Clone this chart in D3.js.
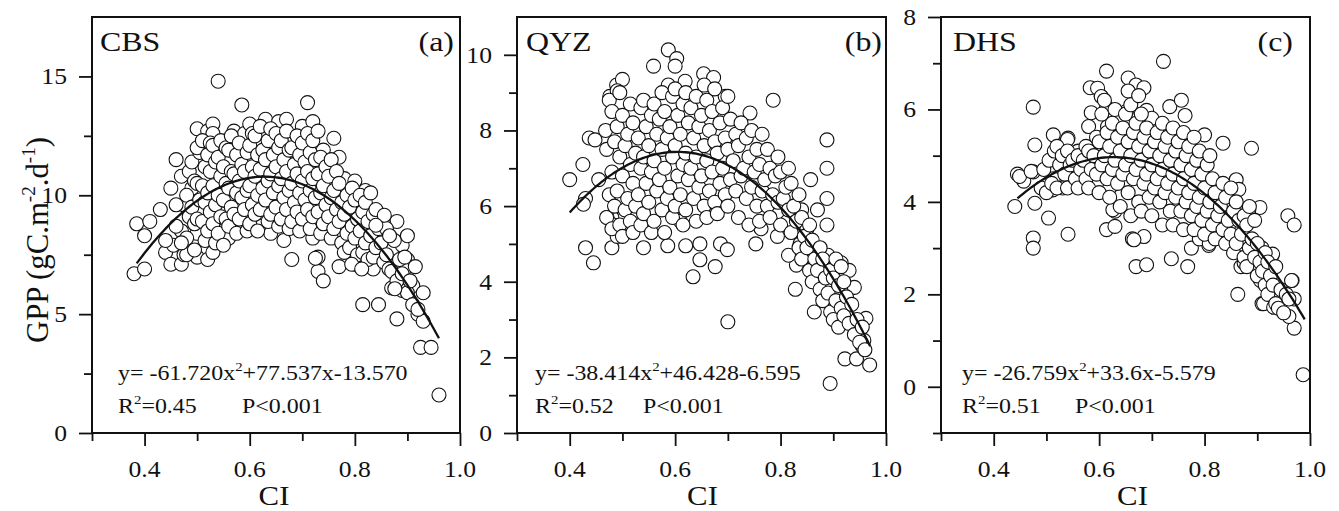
<!DOCTYPE html>
<html>
<head>
<meta charset="utf-8">
<script src="https://cdn.jsdelivr.net/npm/d3@7"></script>
<style>
  body { margin: 0; background: #fff; }
  svg text { font-family: "Liberation Serif", "Times New Roman", serif; fill: #111; }
</style>
</head>
<body>
<svg id="chart" width="1339" height="511"></svg>
<script>
// ---- data ----
var sites = ["CBS", "QYZ", "DHS"];
var panelTags = ["(a)", "(b)", "(c)"];
var xDomain = [0.3, 1.0];
var xMajor = [0.4, 0.6, 0.8, 1.0];
var xMinor = [0.3, 0.5, 0.7, 0.9];
var yDomains = [[0, 17.5], [0, 11], [-1, 8]];
var yMajor = [[0, 5, 10, 15], [0, 2, 4, 6, 8, 10], [0, 2, 4, 6, 8]];
var yMinor = [[2.5, 7.5, 12.5], [1, 3, 5, 7, 9], [-1, 1, 3, 5, 7]];
var fitCoefs = [[-61.720, 77.537, -13.570], [-38.414, 46.428, -6.595], [-26.759, 33.6, -5.579]];
var fitRange = [[0.385, 0.96], [0.40, 0.97], [0.445, 0.99]];
var eqA = ["y= -61.720x", "y= -38.414x", "y= -26.759x"];
var eqB = ["+77.537x-13.570", "+46.428-6.595", "+33.6x-5.579"];
var r2Values = ["0.45", "0.52", "0.51"];

var cbsPoints = [
  [0.54,14.8],[0.585,13.8],[0.71,13.9],[0.38,6.7],[0.40,6.9],[0.385,8.8],[0.40,8.3],[0.41,8.9],
  [0.43,9.4],[0.44,7.6],[0.45,7.1],[0.455,7.9],[0.45,10.3],[0.46,11.5],[0.47,7.1],[0.48,7.8],
  [0.49,9.9],[0.49,10.3],[0.50,7.4],[0.50,8.4],[0.50,12.8],[0.51,11.9],[0.52,12.7],[0.53,13.0],
  [0.53,12.6],[0.52,7.3],[0.53,7.6],[0.55,8.5],[0.56,9.7],[0.565,11.5],[0.57,12.7],[0.56,8.2],
  [0.58,8.7],[0.59,12.6],[0.60,13.0],[0.62,8.7],[0.63,13.2],[0.64,12.2],[0.64,8.4],[0.655,13.1],
  [0.67,13.2],[0.665,8.1],[0.68,7.3],[0.68,12.3],[0.69,12.1],[0.70,8.7],[0.70,12.9],[0.72,13.1],
  [0.72,8.2],[0.73,7.4],[0.73,6.8],[0.74,6.4],[0.74,11.9],[0.75,10.6],[0.76,12.4],[0.77,11.6],
  [0.77,7.0],[0.78,10.7],[0.79,8.0],[0.80,7.1],[0.80,10.6],[0.80,8.7],[0.81,9.6],[0.82,10.2],
  [0.82,7.0],[0.83,8.7],[0.835,6.9],[0.815,5.4],[0.845,5.4],[0.85,9.1],[0.86,8.3],[0.87,7.7],
  [0.87,6.1],[0.88,8.9],[0.88,4.8],[0.89,7.9],[0.89,6.0],[0.90,8.3],[0.90,7.3],[0.90,7.0],
  [0.91,6.2],[0.92,5.0],[0.93,5.9],[0.93,4.7],[0.925,3.6],[0.945,3.6],[0.96,1.6],
  [0.47,8.5],[0.475,9.6],[0.47,10.8],[0.475,7.5],
  [0.48,8.2],[0.485,9.1],[0.48,10.0],[0.485,11.0],[0.48,7.5],
  [0.495,8.8],[0.49,9.5],[0.495,10.6],[0.49,11.4],[0.495,7.7],
  [0.50,9.0],[0.505,9.8],[0.50,10.5],[0.505,11.8],[0.50,12.0],
  [0.515,8.1],[0.51,8.9],[0.515,9.7],[0.51,10.4],[0.515,11.2],[0.51,12.3],
  [0.52,8.5],[0.525,9.3],[0.52,10.1],[0.525,11.0],[0.52,11.7],[0.525,12.2],
  [0.535,8.0],[0.53,8.8],[0.535,9.6],[0.53,10.4],[0.535,11.4],[0.53,12.1],
  [0.54,8.4],[0.545,9.1],[0.54,10.0],[0.545,10.8],[0.54,11.6],[0.545,12.3],
  [0.555,9.0],[0.55,9.8],[0.555,10.5],[0.55,11.2],[0.555,12.0],[0.55,7.9],
  [0.56,8.7],[0.565,9.5],[0.56,10.3],[0.565,11.0],[0.56,11.9],[0.565,12.5],
  [0.575,8.4],[0.57,9.2],[0.575,10.1],[0.57,10.9],[0.575,11.7],
  [0.58,9.0],[0.585,9.9],[0.58,10.6],[0.585,11.3],[0.58,12.2],
  [0.595,8.5],[0.59,9.4],[0.595,10.2],[0.59,11.0],[0.595,11.8],
  [0.60,8.8],[0.605,9.6],[0.60,10.4],[0.605,11.2],[0.60,12.1],[0.605,12.6],
  [0.615,8.5],[0.61,9.2],[0.615,10.0],[0.61,10.8],[0.615,11.7],[0.61,12.5],
  [0.62,9.4],[0.625,10.3],[0.62,11.1],[0.625,11.9],[0.62,12.9],
  [0.635,8.9],[0.63,9.8],[0.635,10.6],[0.63,11.5],[0.635,12.3],
  [0.64,9.2],[0.645,10.1],[0.64,10.9],[0.645,11.7],[0.64,12.8],
  [0.655,8.7],[0.65,9.5],[0.655,10.4],[0.65,11.2],[0.655,12.0],[0.65,12.6],
  [0.66,9.0],[0.665,9.9],[0.66,10.7],[0.665,11.5],[0.66,12.3],
  [0.675,8.6],[0.67,9.4],[0.675,10.2],[0.67,11.0],[0.675,11.9],[0.67,12.7],
  [0.68,8.9],[0.685,9.7],[0.68,10.5],[0.685,11.3],[0.68,12.0],
  [0.695,8.5],[0.69,9.3],[0.695,10.1],[0.69,10.9],[0.695,11.7],[0.69,12.5],
  [0.70,9.0],[0.705,9.8],[0.70,10.6],[0.705,11.4],[0.70,12.2],
  [0.715,8.6],[0.71,9.4],[0.715,10.2],[0.71,11.0],[0.715,11.8],[0.71,12.6],
  [0.72,9.1],[0.725,9.9],[0.72,10.7],[0.725,11.5],[0.72,12.3],
  [0.735,8.4],[0.73,9.3],[0.735,10.1],[0.73,10.9],[0.735,11.6],[0.73,12.7],
  [0.74,8.8],[0.745,9.6],[0.74,10.4],[0.745,11.2],
  [0.755,8.2],[0.75,9.1],[0.755,9.9],[0.75,10.8],[0.755,11.5],
  [0.76,8.6],[0.765,9.4],[0.76,10.2],[0.765,11.0],
  [0.775,8.0],[0.77,8.9],[0.775,9.7],[0.77,10.5],
  [0.78,7.6],[0.785,8.4],[0.78,9.2],[0.785,10.0],
  [0.795,8.7],[0.79,9.5],[0.795,10.3],[0.79,7.8],
  [0.80,8.2],[0.805,9.0],[0.80,9.8],[0.805,7.5],
  [0.815,7.6],[0.81,8.5],[0.815,9.3],[0.81,10.0],
  [0.82,8.0],[0.825,8.9],[0.82,9.7],[0.825,7.3],
  [0.835,7.4],[0.83,8.3],[0.835,9.2],[0.83,10.1],
  [0.84,7.8],[0.845,8.6],[0.84,9.4],
  [0.855,7.2],[0.85,8.0],[0.855,8.8],
  [0.86,7.5],[0.865,6.9],[0.86,8.6],
  [0.87,6.8],[0.875,8.1],[0.88,6.4],[0.885,7.3],[0.89,6.7],[0.895,7.4],
  [0.90,5.9],[0.905,6.4],[0.91,5.4],[0.915,7.0],
  [0.44,8.1],[0.46,8.7],[0.46,9.6],[0.47,8.0],
  [0.92,5.2],[0.876,6.07],[0.725,7.35],[0.794,7.1],[0.813,6.9],[0.856,9.16],[0.84,8.74],[0.866,8.3]
];

var qyzPoints = [
  [0.40,6.7],[0.425,7.1],[0.437,7.8],[0.448,7.75],[0.43,6.2],[0.426,6.05],[0.43,4.9],[0.445,4.5],
  [0.455,6.7],[0.468,8.0],[0.476,8.9],[0.489,9.2],[0.50,9.35],[0.49,9.05],[0.48,4.9],[0.49,5.2],
  [0.48,5.7],[0.54,4.9],[0.559,9.7],[0.587,10.13],[0.603,9.9],[0.60,9.7],[0.587,9.2],[0.619,9.3],
  [0.654,9.5],[0.673,9.4],[0.695,8.9],[0.742,8.46],[0.786,8.8],[0.888,7.75],[0.888,7.0],[0.888,6.2],
  [0.888,5.5],[0.857,6.7],[0.87,5.9],[0.864,3.2],[0.70,2.94],[0.894,1.31],[0.922,1.96],[0.944,1.96],
  [0.969,1.8],[0.955,2.3],[0.958,2.45],[0.962,3.03],[0.94,3.85],[0.93,4.3],[0.908,3.3],[0.915,4.5],
  [0.89,4.7],[0.83,4.44],[0.828,3.8],[0.815,4.7],[0.837,5.0],[0.85,5.4],[0.84,5.9],[0.813,5.6],
  [0.794,5.2],[0.763,5.4],[0.753,5.0],[0.647,4.58],[0.634,4.13],[0.676,4.4],[0.647,5.0],[0.686,5.0],
  [0.699,4.85],[0.62,4.95],[0.586,4.95],[0.61,5.6],[0.471,5.7],[0.483,5.5],
  [0.47,5.7],[0.475,6.3],[0.47,7.5],[0.475,8.8],
  [0.48,5.4],[0.485,6.0],[0.48,6.9],[0.485,7.7],[0.48,8.5],
  [0.495,5.5],[0.49,6.4],[0.495,7.3],[0.49,8.1],[0.495,9.0],
  [0.50,5.2],[0.505,5.9],[0.50,6.8],[0.505,7.6],[0.50,8.4],
  [0.515,5.6],[0.51,6.2],[0.515,7.1],[0.51,7.9],[0.515,8.7],
  [0.52,5.3],[0.525,6.0],[0.52,6.6],[0.525,7.4],[0.52,8.2],
  [0.535,5.5],[0.53,6.3],[0.535,7.0],[0.53,7.8],[0.535,8.6],
  [0.54,5.8],[0.545,6.6],[0.54,7.3],[0.545,8.1],[0.54,8.8],
  [0.555,5.3],[0.55,6.1],[0.555,6.9],[0.55,7.6],[0.555,8.4],
  [0.56,5.6],[0.565,6.4],[0.56,7.2],[0.565,7.9],[0.56,8.7],
  [0.575,5.9],[0.57,6.7],[0.575,7.5],[0.57,8.3],[0.575,9.0],
  [0.58,5.3],[0.585,6.2],[0.58,7.0],[0.585,7.8],[0.58,8.5],
  [0.595,5.7],[0.59,6.5],[0.595,7.3],[0.59,8.1],[0.595,8.9],
  [0.60,6.0],[0.605,6.8],[0.60,7.6],[0.605,8.4],[0.60,9.1],
  [0.615,5.5],[0.61,6.3],[0.615,7.1],[0.61,7.9],[0.615,8.7],
  [0.62,5.9],[0.625,6.7],[0.62,7.4],[0.625,8.2],[0.62,9.0],
  [0.635,6.2],[0.63,7.0],[0.635,7.8],[0.63,8.6],
  [0.64,5.6],[0.645,6.5],[0.64,7.3],[0.645,8.1],[0.64,8.9],
  [0.655,6.0],[0.65,6.8],[0.655,7.6],[0.65,8.4],[0.655,9.2],
  [0.66,5.7],[0.665,6.4],[0.66,7.2],[0.665,8.0],[0.66,8.8],
  [0.675,6.1],[0.67,6.9],[0.675,7.7],[0.67,8.5],[0.675,9.1],
  [0.68,5.8],[0.685,6.6],[0.68,7.4],[0.685,8.2],
  [0.695,6.3],[0.69,7.0],[0.695,7.8],[0.69,8.6],
  [0.70,6.0],[0.705,6.7],[0.70,7.5],[0.705,8.3],[0.70,8.9],
  [0.715,6.4],[0.71,7.2],[0.715,7.9],
  [0.72,5.7],[0.725,6.8],[0.72,7.6],[0.725,8.2],
  [0.735,6.2],[0.73,7.0],[0.735,7.8],
  [0.74,5.5],[0.745,6.5],[0.74,7.3],[0.745,8.0],
  [0.755,6.0],[0.75,6.9],[0.755,7.5],
  [0.76,5.6],[0.765,6.4],[0.76,7.1],[0.765,7.9],
  [0.775,6.0],[0.77,6.7],[0.775,7.5],
  [0.78,5.7],[0.785,6.3],[0.78,7.0],
  [0.795,6.1],[0.79,6.8],[0.795,7.3],
  [0.80,5.5],[0.805,6.2],[0.80,6.9],
  [0.815,5.9],[0.81,6.5],[0.815,7.0],
  [0.82,5.3],[0.825,6.0],[0.82,6.6],
  [0.835,4.9],[0.83,5.6],[0.835,6.3],
  [0.84,4.6],[0.845,5.2],[0.84,5.7],
  [0.855,4.3],[0.85,4.9],[0.855,5.5],
  [0.86,4.0],[0.865,4.6],[0.86,5.1],
  [0.875,3.8],[0.87,4.3],[0.875,4.9],
  [0.88,3.5],[0.885,4.1],[0.88,4.6],
  [0.895,3.2],[0.89,3.7],[0.895,4.3],
  [0.90,3.0],[0.905,3.5],[0.90,4.1],[0.905,4.6],
  [0.91,2.8],[0.915,3.3],[0.91,3.9],[0.915,4.4],
  [0.92,3.1],[0.925,3.6],[0.92,4.0],
  [0.93,2.9],[0.935,3.4],[0.94,2.6],[0.945,3.0],[0.95,2.4],[0.955,2.8],[0.96,2.2]
];

var dhsPoints = [
  [0.44,3.9],[0.445,4.6],[0.457,4.45],[0.475,6.05],[0.478,5.23],[0.475,4.65],[0.478,3.97],[0.475,3.22],
  [0.475,3.0],[0.504,3.65],[0.513,5.45],[0.541,5.38],[0.541,3.3],[0.525,5.0],[0.513,4.5],[0.56,5.1],
  [0.564,4.33],[0.58,5.63],[0.585,5.93],[0.583,6.47],[0.604,6.28],[0.614,6.83],[0.614,6.05],[0.617,5.62],
  [0.595,5.25],[0.614,3.4],[0.63,3.47],[0.63,3.8],[0.62,4.3],[0.655,6.68],[0.67,6.53],[0.685,6.47],
  [0.652,5.96],[0.668,5.6],[0.69,5.98],[0.70,5.81],[0.663,3.2],[0.685,3.25],[0.67,2.6],[0.69,2.64],
  [0.722,7.04],[0.734,6.06],[0.756,6.2],[0.763,5.87],[0.737,2.77],[0.768,2.6],[0.775,3.0],[0.80,5.45],
  [0.835,5.27],[0.889,5.16],[0.86,4.48],[0.863,2.0],[0.869,2.6],[0.905,3.88],[0.958,3.7],[0.97,3.5],
  [0.987,0.26],[0.97,1.27],[0.96,1.52],[0.966,2.3],[0.97,1.9],[0.94,2.0],[0.909,1.8],[0.928,2.85],
  [0.909,3.0],[0.88,3.85],[0.83,3.5],[0.808,3.8],[0.808,3.06],[0.79,3.2],
  [0.597,6.46],[0.604,6.28],[0.54,5.35],[0.559,5.09],[0.616,5.63],[0.629,5.37],[0.449,4.55],[0.471,4.66],
  [0.512,4.26],[0.531,4.3],[0.559,4.33],[0.626,3.83],[0.912,1.8],[0.931,1.72],[0.944,1.94],[0.925,2.2],
  [0.906,2.3],[0.913,2.9],[0.929,2.87],[0.893,3.1],[0.868,2.96],[0.875,2.68],[0.865,4.27],[0.884,3.83],
  [0.871,3.43],[0.666,3.18],[0.809,3.1],
  [0.49,4.3],[0.495,4.7],[0.50,4.2],[0.505,4.9],[0.51,4.4],[0.515,5.1],
  [0.52,4.3],[0.525,4.8],[0.52,5.2],[0.535,4.6],[0.53,5.0],
  [0.54,4.3],[0.545,4.8],[0.54,5.1],[0.555,4.5],[0.55,4.9],
  [0.56,4.3],[0.565,4.7],[0.56,5.0],[0.575,4.5],[0.57,4.9],[0.575,5.2],
  [0.58,4.3],[0.585,4.7],[0.58,5.1],[0.595,4.6],[0.59,5.0],[0.595,5.4],
  [0.60,4.2],[0.605,4.8],[0.60,5.3],[0.605,5.9],
  [0.615,4.5],[0.61,5.0],[0.615,5.5],[0.61,6.2],
  [0.62,4.1],[0.625,4.7],[0.62,5.2],[0.625,5.7],
  [0.635,4.4],[0.63,4.9],[0.635,5.4],[0.63,6.0],
  [0.64,3.9],[0.645,4.6],[0.64,5.1],[0.645,5.6],
  [0.655,4.2],[0.65,4.8],[0.655,5.3],[0.65,5.9],[0.655,6.4],
  [0.66,3.7],[0.665,4.5],[0.66,5.0],[0.665,5.5],[0.66,6.1],
  [0.675,4.0],[0.67,4.7],[0.675,5.2],[0.67,5.7],[0.675,6.3],
  [0.68,3.8],[0.685,4.4],[0.68,4.9],[0.685,5.4],[0.68,5.9],
  [0.695,4.1],[0.69,4.6],[0.695,5.1],[0.69,5.6],
  [0.70,3.7],[0.705,4.3],[0.70,4.8],[0.705,5.3],
  [0.715,4.0],[0.71,4.5],[0.715,5.0],[0.71,5.5],
  [0.72,3.5],[0.725,4.2],[0.72,4.7],[0.725,5.2],[0.72,5.7],
  [0.735,3.8],[0.73,4.4],[0.735,4.9],[0.73,5.4],
  [0.74,3.5],[0.745,4.1],[0.74,4.6],[0.745,5.1],[0.74,5.6],
  [0.755,3.8],[0.75,4.3],[0.755,4.8],[0.75,5.3],
  [0.76,3.4],[0.765,4.0],[0.76,4.5],[0.765,5.0],[0.76,5.5],
  [0.775,3.7],[0.77,4.2],[0.775,4.7],[0.77,5.2],
  [0.78,3.4],[0.785,3.9],[0.78,4.4],[0.785,4.9],[0.78,5.4],
  [0.795,3.6],[0.79,4.1],[0.795,4.6],[0.79,5.1],
  [0.80,3.3],[0.805,3.8],[0.80,4.3],[0.805,4.8],
  [0.815,3.5],[0.81,4.0],[0.815,4.5],[0.81,5.0],
  [0.82,3.2],[0.825,3.7],[0.82,4.2],[0.835,3.4],[0.83,3.9],[0.835,4.4],
  [0.84,3.1],[0.845,3.6],[0.84,4.1],[0.855,2.9],[0.85,3.3],[0.855,3.8],[0.85,4.3],
  [0.86,3.1],[0.865,3.6],[0.86,4.0],[0.875,2.8],[0.87,3.3],[0.875,3.7],
  [0.88,2.6],[0.885,3.0],[0.88,3.5],[0.885,3.9],[0.895,2.8],[0.89,3.2],[0.895,3.6],
  [0.90,2.4],[0.905,2.7],[0.90,3.1],[0.915,2.2],[0.91,2.5],[0.915,2.9],
  [0.92,2.0],[0.925,2.4],[0.92,2.7],[0.935,1.8],[0.93,2.2],[0.935,2.6],
  [0.94,1.7],[0.945,2.1],[0.95,1.6],[0.955,2.0],[0.96,1.9],[0.965,2.3]
];
var allPoints = [cbsPoints, qyzPoints, dhsPoints];

// ---- layout ----
var SX = 1.14;             // the reference text looks widened horizontally
var plotTop = 17, plotBottom = 433;
var lefts = [92, 517, 941], rights = [460, 886, 1310];
var nameDx = [8, 9, 12], tagDx = [-6, -4, -17], eqDx = [26, 18, 21], pDx = [150, 126, 134], ciDx = [-2, 1, 7];

var svg = d3.select("#chart");

function addText(g, x, y, anchor, size) {
  return g.append("text")
    .attr("transform", "translate(" + x + "," + y + ") scale(" + SX + ",1)")
    .attr("text-anchor", anchor)
    .attr("font-size", size);
}
function sup(t, txt, size) {
  t.append("tspan").attr("font-size", size * 0.62).attr("dy", -size * 0.42).text(txt);
  return t.append("tspan").attr("dy", size * 0.42);
}

sites.forEach(function(site, i) {
  var L = lefts[i], R = rights[i];
  var x = d3.scaleLinear().domain(xDomain).range([L, R]);
  var y = d3.scaleLinear().domain(yDomains[i]).range([plotBottom, plotTop]);
  var g = svg.append("g");

  // ticks (outer)
  function ticks(axis, tr, vals, size) {
    var a = g.append("g").attr("transform", tr)
      .call(axis.tickValues(vals).tickSize(size).tickFormat(""));
    a.select(".domain").remove();
    a.selectAll("line").attr("stroke", "#111").attr("stroke-width", 1.8);
  }
  ticks(d3.axisBottom(x), "translate(0," + plotBottom + ")", xMajor, 13);
  ticks(d3.axisBottom(x), "translate(0," + plotBottom + ")", xMinor, 8);
  ticks(d3.axisLeft(y), "translate(" + L + ",0)", yMajor[i], 13);
  ticks(d3.axisLeft(y), "translate(" + L + ",0)", yMinor[i], 8);

  // scatter
  g.append("g").selectAll("circle")
    .data(allPoints[i])
    .join("circle")
    .attr("cx", function(d) { return x(d[0]); })
    .attr("cy", function(d) { return y(d[1]); })
    .attr("r", 7)
    .attr("fill", "#fff")
    .attr("stroke", "#111")
    .attr("stroke-width", 1.1);

  // fitted quadratic
  var c = fitCoefs[i];
  var xs = d3.range(fitRange[i][0], fitRange[i][1] + 1e-9, 0.005);
  var line = d3.line()
    .x(function(v) { return x(v); })
    .y(function(v) { return y(c[0] * v * v + c[1] * v + c[2]); });
  g.append("path").datum(xs).attr("d", line)
    .attr("fill", "none").attr("stroke", "#111").attr("stroke-width", 2.3);

  // frame
  g.append("rect").attr("x", L).attr("y", plotTop).attr("width", R - L).attr("height", plotBottom - plotTop)
    .attr("fill", "none").attr("stroke", "#111").attr("stroke-width", 2);

  // tick labels
  xMajor.forEach(function(v) {
    addText(g, x(v), 477, "middle", 22.5).text(v.toFixed(1));
  });
  yMajor[i].forEach(function(v) {
    addText(g, L - 25, y(v) + 8, "end", 22.5).text(v);
  });
  addText(g, (L + R) / 2 + ciDx[i], 505, "middle", 27).text("CI");

  // panel labels
  addText(g, L + nameDx[i], 51, "start", 28).text(site);
  addText(g, R + tagDx[i], 51, "end", 28).text(panelTags[i]);

  // equation and stats
  var eq = addText(g, L + eqDx[i], 380, "start", 21);
  eq.append("tspan").text(eqA[i]);
  sup(eq, "2", 21).text(eqB[i]);
  var r2 = addText(g, L + eqDx[i], 413, "start", 21);
  r2.append("tspan").text("R");
  sup(r2, "2", 21).text("=" + r2Values[i]);
  addText(g, L + pDx[i], 413, "start", 21).text("P<0.001");
});

// y axis title
var yt = svg.append("text")
  .attr("transform", "translate(48,240) rotate(-90) scale(1.1," + SX + ")")
  .attr("text-anchor", "middle")
  .attr("font-size", 28);
yt.append("tspan").text("GPP (gC.m");
sup(yt, "-2", 28).text(".d");
sup(yt, "-1", 28).text(")");
</script>
</body>
</html>
